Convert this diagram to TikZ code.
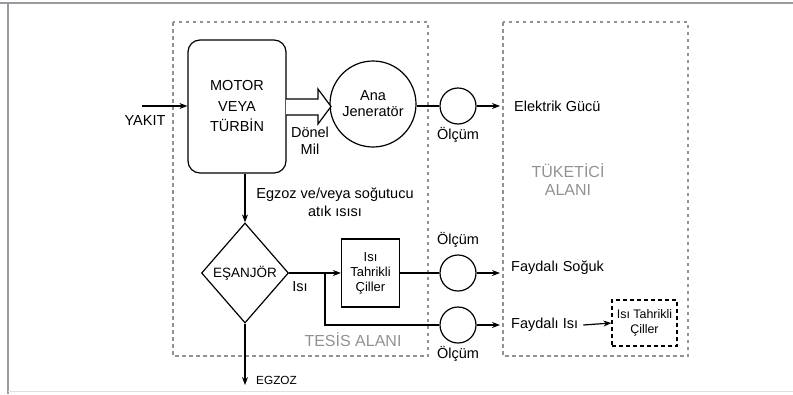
\documentclass[tikz,border=0pt]{standalone}
\usepackage{fontspec}
\setmainfont{Liberation Sans}
\usepackage{xcolor}
\usetikzlibrary{arrows.meta,shapes.geometric}

\definecolor{alangri}{HTML}{929292}
\definecolor{cerceve}{HTML}{9A9A9E}

\tikzset{
  motorkutu/.style={draw, line width=1.2pt, rounded corners=12pt, minimum width=98pt, minimum height=133pt, align=center, inner sep=0pt},
  olcer/.style={draw, line width=1.2pt, circle, minimum size=36pt, inner sep=0pt},
  jenerator/.style={draw, line width=1.2pt, circle, minimum size=86pt, inner sep=0pt, align=center},
  esanjor/.style={draw, line width=1.2pt, diamond, minimum width=87pt, minimum height=100pt, inner sep=0pt},
  cillerkutu/.style={draw, line width=1.2pt, minimum width=58pt, minimum height=68pt, inner sep=0pt, align=center},
  alan/.style={draw=alangri, line width=2.5pt, dash pattern=on 3.5pt off 3.5pt},
  alanyazi/.style={text=alangri, font=\fontsize{16}{18}\selectfont, align=center},
  yazi/.style={font=\fontsize{14.5}{17}\selectfont, align=center, inner sep=0pt}
}

\begin{document}
\begin{tikzpicture}[x=1pt, y=-1pt, >={Stealth[length=8pt,width=6pt]}, line cap=butt, line join=miter]

\useasboundingbox (0,0) rectangle (793,394);

% Cerceve
\draw[cerceve, line width=2.5pt] (0,3) -- (793,3);
\draw[cerceve, line width=2.5pt] (8,3) -- (8,394);
\draw[black!12, line width=1pt] (8,391.5) -- (793,391.5);

% Alanlar
\draw[alan] (173,22) rectangle (428,356);
\draw[alan] (503,22) rectangle (688,356);
\node[alanyazi] (tesis) at (353,340) {TES\.{I}S ALANI};
\node[alanyazi] (tuketici) at (568,180) {T\"UKET\.{I}C\.{I}\\ALANI};

% Bloklar
\node[motorkutu, font=\fontsize{14.5}{20.5}\selectfont] (motor) at (237,106.5) {MOTOR\\VEYA\\T\"URB\.{I}N};
\node[jenerator, font=\fontsize{14.5}{16}\selectfont] (jen) at (373,104) {Ana\\Jenerat\"or};
\node[esanjor] (esj) at (245,273) {};
\node[font=\fontsize{13.5}{16}\selectfont] at (esj) {E\c{S}ANJ\"OR};
\node[cillerkutu, font=\fontsize{13}{15}\selectfont] (ciller) at (370.5,273) {Is\i\\Tahrikli\\\c{C}iller};
\node[draw, line width=1.2pt, dash pattern=on 4pt off 3pt, minimum width=65pt, minimum height=46pt, inner sep=0pt, align=center,
      font=\fontsize{12.4}{15}\selectfont] (ciller2) at (644.5,323) {Is\i{} Tahrikli\\\c{C}iller};

% Olcum
\node[olcer] (m1) at (458,106) {};
\node[olcer] (m2) at (458,273) {};
\node[olcer] (m3) at (458,325) {};
\node[yazi] at (458,135) {\"Ol\c{c}\"um};
\node[yazi] at (458,240) {\"Ol\c{c}\"um};
\node[yazi] at (458,354) {\"Ol\c{c}\"um};

% Uc noktalar
\coordinate (yakit) at (142,106);
\coordinate (e1) at (500,106);
\coordinate (e2) at (500,273);
\coordinate (e3) at (500,325);
\coordinate (dal) at (325,273);
\coordinate (egz) at (245,385);

% Oklar
\draw[->, line width=1.2pt] (yakit) -- (motor.west |- yakit);
\node[yazi] at (145,121) {YAKIT};
\draw[line width=1.2pt, fill=white] (286,99) -- (318,99) -- (318,89) -- (331,106.5) -- (318,124) -- (318,115) -- (286,115);
\node[yazi] at (310,140.5) {D\"onel\\Mil};
\draw[line width=1.2pt] (jen.east |- m1) -- (m1.west);
\draw[->, line width=1.2pt] (m1.east) -- (e1);
\node[yazi, anchor=west] at (514,106) {Elektrik G\"uc\"u};

\draw[->, line width=1.2pt] (esj.north |- motor.south) -- (esj.north);
\node[yazi, font=\fontsize{14.5}{18}\selectfont] at (335,202) {Egzoz ve/veya so\u{g}utucu\\at\i k \i s\i s\i};

\draw[->, line width=1.2pt] (esj.east) -- (ciller.west);
\node[yazi] at (300,287) {Is\i};
\draw[line width=1.2pt] (dal) |- (m3.west);
\draw[line width=1.2pt] (ciller.east) -- (m2.west);
\draw[->, line width=1.2pt] (m2.east) -- (e2);
\draw[->, line width=1.2pt] (m3.east) -- (e3);
\node[yazi, anchor=west] at (511,268) {Faydal\i{} So\u{g}uk};
\node[yazi, anchor=west] (fisi) at (511,325) {Faydal\i{} Is\i};
\draw[->, line width=1.2pt] (fisi.east) ++(5,0) -- (ciller2.west);

\draw[->, line width=1.2pt] (esj.south) -- (egz);
\node[yazi, anchor=west, font=\fontsize{11.8}{14}\selectfont] at (256,380) {EGZOZ};

\end{tikzpicture}
\end{document}
